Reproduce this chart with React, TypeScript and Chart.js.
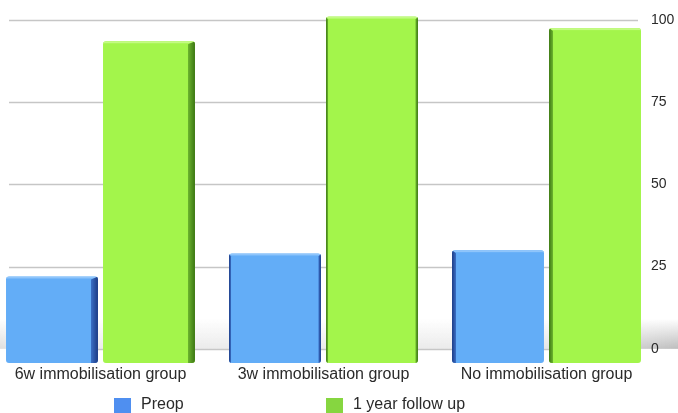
import { useEffect, useRef } from "react";
import { Chart, registerables } from "chart.js";

Chart.register(...registerables);

// ---- data ----
const categories = ["6w immobilisation group", "3w immobilisation group", "No immobilisation group"];
const seriesLabels = ["Preop", "1 year follow up"];
const preopValues = [22, 29, 30];
const followUpValues = [93.5, 101, 97.5];
const yTickValues = [0, 25, 50, 75, 100];

// ---- look ----
const FONT = '"Liberation Sans", Arial, Helvetica, sans-serif';
const TEXT = "#2a2a2a";
const Y_FLOOR = -4.3;
const Y_TOP = 103;

const palette = [
  { front: "#63adf7", top: "#8fc5fb", sideLight: "#3b70c6", sideDark: "#1c3a84", key: "#4f8ff0" },
  { front: "#a3f54b", top: "#c3fb83", sideLight: "#6cb52e", sideDark: "#3c7614", key: "#86d640" },
];

// back-wall shadow and horizontal rules, drawn behind the bars
const backdropPlugin = {
  id: "backdrop",
  beforeDatasetsDraw(chart: any) {
    const { ctx } = chart;
    const y = chart.scales.y;
    const zero = y.getPixelForValue(0);
    const band = 30;
    ctx.save();
    for (let x = 0; x < chart.width; x += 2) {
      const t = x / chart.width;
      const a = 0.14 + 0.32 * Math.pow(Math.max(0, (t - 0.75) / 0.25), 1.5) + 0.12 * Math.max(0, 1 - t / 0.05);
      const g = ctx.createLinearGradient(0, zero - band, 0, zero);
      g.addColorStop(0, "rgba(110,110,110,0)");
      g.addColorStop(1, `rgba(110,110,110,${a.toFixed(3)})`);
      ctx.fillStyle = g;
      ctx.fillRect(x, zero - band, 2, band);
    }
    ctx.strokeStyle = "#c6c6c6";
    ctx.lineWidth = 1.5;
    for (const v of yTickValues) {
      const py = Math.round(y.getPixelForValue(v)) + 0.5;
      ctx.beginPath();
      ctx.moveTo(20, py);
      ctx.lineTo(649, py);
      ctx.stroke();
    }
    ctx.restore();
  },
};

// bevelled sides and top edge on each bar
const bevelPlugin = {
  id: "bevel",
  afterDatasetsDraw(chart: any) {
    const { ctx } = chart;
    chart.data.datasets.forEach((_ds: any, di: number) => {
      const meta = chart.getDatasetMeta(di);
      const c = palette[di];
      meta.data.forEach((el: any, i: number) => {
        const { x, y, base, width } = el.getProps(["x", "y", "base", "width"], true);
        const left = x - width / 2;
        const right = x + width / 2;
        const h = base - y;
        ctx.save();
        ctx.beginPath();
        ctx.roundRect(left, y, width, h, 3);
        ctx.clip();
        ctx.fillStyle = c.top;
        ctx.fillRect(left, y, width, 2);
        const side = (x0: number, w: number, dir: number) => {
          const g = ctx.createLinearGradient(dir > 0 ? x0 : x0 + w, 0, dir > 0 ? x0 + w : x0, 0);
          g.addColorStop(0, c.sideLight);
          g.addColorStop(1, c.sideDark);
          ctx.fillStyle = g;
          ctx.beginPath();
          if (dir > 0) {
            ctx.moveTo(x0, y + 3);
            ctx.lineTo(x0 + w, y);
            ctx.lineTo(x0 + w, base);
            ctx.lineTo(x0, base);
          } else {
            ctx.moveTo(x0, y);
            ctx.lineTo(x0 + w, y + 3);
            ctx.lineTo(x0 + w, base);
            ctx.lineTo(x0, base);
          }
          ctx.closePath();
          ctx.fill();
        };
        if (i === 0) side(right - 7, 7, 1);
        else if (i === 2) side(left, 4, -1);
        else {
          side(left, 2, -1);
          side(right - 2.5, 2.5, 1);
        }
        ctx.restore();
      });
    });
  },
};

// value-axis numbers, left-aligned just right of the rules, above the bars
const axisNumbersPlugin = {
  id: "axisNumbers",
  afterDatasetsDraw(chart: any) {
    const { ctx } = chart;
    const y = chart.scales.y;
    ctx.save();
    ctx.font = `14px ${FONT}`;
    ctx.fillStyle = TEXT;
    ctx.textAlign = "left";
    ctx.textBaseline = "middle";
    y.ticks.forEach((t: any) => {
      ctx.fillText(String(t.value), 662, y.getPixelForValue(t.value));
    });
    ctx.restore();
  },
};

// key below the axis labels
const keyPlugin = {
  id: "key",
  afterDraw(chart: any) {
    const { ctx } = chart;
    const spots = [125, 337];
    ctx.save();
    ctx.font = `16px ${FONT}`;
    ctx.textBaseline = "middle";
    ctx.textAlign = "left";
    chart.data.datasets.forEach((ds: any, di: number) => {
      const x = spots[di];
      ctx.fillStyle = palette[di].key;
      ctx.fillRect(x, 398, 17, 16);
      ctx.fillStyle = TEXT;
      ctx.fillText(ds.label, x + 27, 405);
    });
    ctx.restore();
  },
};

export default function App() {
  const ref = useRef<HTMLCanvasElement | null>(null);

  useEffect(() => {
    if (!ref.current) return;
    const chart = new Chart(ref.current, {
      type: "bar",
      data: {
        labels: categories,
        datasets: [
          {
            label: seriesLabels[0],
            data: preopValues,
            backgroundColor: palette[0].front,
            borderWidth: 0,
            borderRadius: 3,
            borderSkipped: false,
            base: Y_FLOOR,
            categoryPercentage: 0.87,
            barPercentage: 0.948,
          } as any,
          {
            label: seriesLabels[1],
            data: followUpValues,
            backgroundColor: palette[1].front,
            borderWidth: 0,
            borderRadius: 3,
            borderSkipped: false,
            base: Y_FLOOR,
            categoryPercentage: 0.87,
            barPercentage: 0.948,
          } as any,
        ],
      },
      options: {
        responsive: false,
        animation: false,
        layout: { padding: { top: 10, bottom: 28, left: 0, right: 0 } },
        plugins: { legend: { display: false }, tooltip: { enabled: false } },
        scales: {
          x: {
            grid: { display: false, drawTicks: false },
            border: { display: false },
            ticks: {
              font: { family: FONT, size: 16 },
              color: TEXT,
              padding: 2,
              maxRotation: 0,
              autoSkip: false,
            },
            afterFit: (s: any) => {
              s.height = 22;
            },
          },
          y: {
            position: "right",
            min: Y_FLOOR,
            max: Y_TOP,
            grid: { display: false, drawTicks: false },
            border: { display: false },
            afterBuildTicks: (s: any) => {
              s.ticks = yTickValues.map((v) => ({ value: v }));
            },
            ticks: { display: false },
            afterFit: (s: any) => {
              s.width = 21;
            },
          },
        },
      },
      plugins: [backdropPlugin, bevelPlugin, axisNumbersPlugin, keyPlugin],
    });
    return () => chart.destroy();
  }, []);

  return (
    <div style={{ position: "absolute", left: -11, top: 0, width: 690, height: 413 }}>
      <canvas ref={ref} width={690} height={413} style={{ display: "block" }} />
    </div>
  );
}
